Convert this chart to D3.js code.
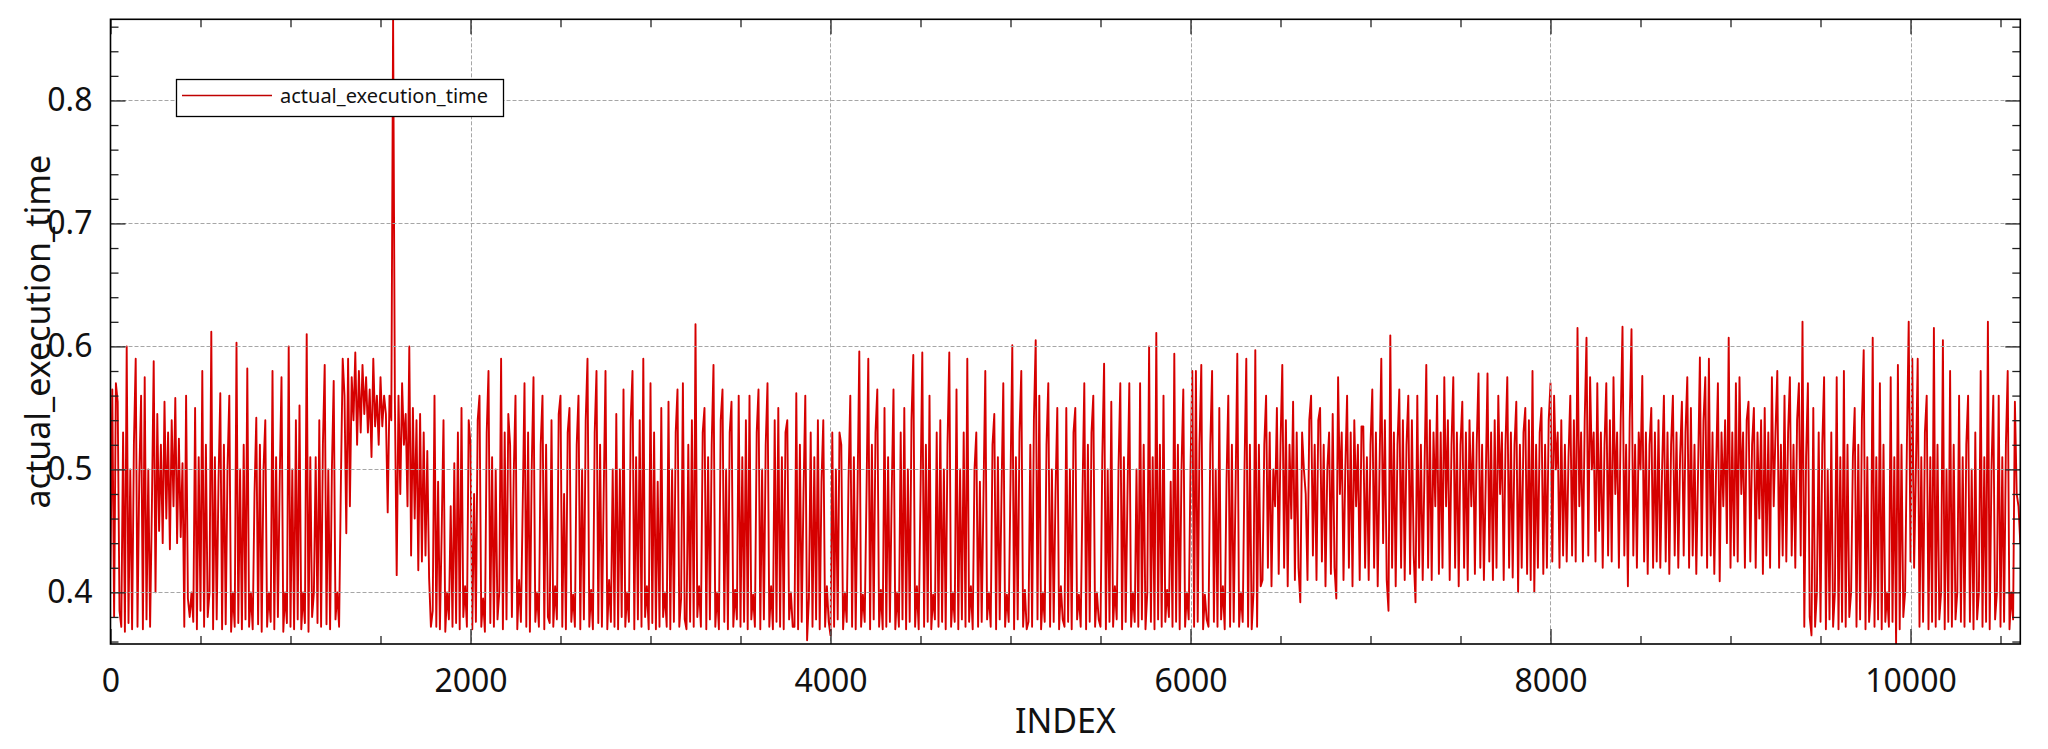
<!DOCTYPE html>
<html>
<head>
<meta charset="utf-8">
<script src="https://cdn.jsdelivr.net/npm/d3@7"></script>
<style>
  html, body { margin: 0; padding: 0; background: #fff; }
  svg { display: block; font-family: "Noto Sans", "DejaVu Sans", sans-serif; }
</style>
</head>
<body>
<svg id="chart" width="2048" height="749"></svg>
<script>
const seriesName = 'actual_execution_time';
const xLabel = 'INDEX';
const yLabel = 'actual_execution_time';
const indexStep = 10;
const xTicks = [0, 2000, 4000, 6000, 8000, 10000];
const yTicks = [0.4, 0.5, 0.6, 0.7, 0.8];

// execution time every 10 rows, in thousandths of a unit
const executionTime = [
  420,565,380,570,555,385,372,530,368,600, 375,500,370,520,590,372,495,560,370,575,
  378,500,372,470,588,400,545,450,520,440, 555,460,530,435,540,470,558,440,525,445,
  505,372,560,395,380,400,376,550,370,510, 385,580,372,520,380,400,612,370,510,378,
  490,562,370,520,374,500,560,368,400,372, 603,375,500,370,520,378,582,372,400,370,
  480,542,374,520,368,500,540,372,400,376, 580,370,510,380,490,575,368,400,375,600,
  372,500,370,540,378,552,370,400,375,610, 368,510,380,400,510,375,540,372,520,585,
  374,500,370,500,572,378,400,372,490,590, 560,448,590,470,575,540,595,520,580,530,
  585,545,575,530,565,510,590,535,560,520, 575,535,560,545,465,560,540,866,555,414,
  560,480,570,520,545,470,600,430,550,460, 540,418,545,425,530,430,515,412,372,385,
  560,372,490,370,450,540,368,400,378,470, 372,505,375,530,370,550,380,405,372,540,
  520,370,480,376,540,560,372,395,368,530, 580,375,510,372,500,378,400,590,370,530,
  378,545,520,380,495,560,370,410,376,470, 570,372,530,368,500,575,376,400,372,520,
  560,370,520,380,375,540,372,405,378,545, 560,372,480,370,530,550,376,398,372,520,
  560,370,500,378,540,590,372,402,370,530, 580,375,520,372,480,580,370,410,376,500,
  372,545,370,500,380,565,372,400,376,540, 580,370,510,378,540,372,590,380,405,370,
  570,375,530,370,490,372,550,380,400,372, 555,370,500,376,530,565,372,395,570,378,
  370,520,376,540,372,618,380,405,372,530, 550,370,510,378,520,585,372,400,370,540,
  565,376,500,370,530,555,372,402,378,560, 372,510,376,540,370,560,378,398,372,530,
  565,370,500,378,520,570,372,405,370,540, 376,550,372,510,370,530,540,378,400,372,
  372,562,370,520,376,480,560,361,395,530, 372,510,378,540,370,490,540,372,405,376,
  365,530,372,500,378,530,520,370,400,376, 490,560,372,510,370,480,596,372,398,376,
  480,590,370,520,378,530,565,372,402,370, 550,372,510,376,480,565,370,400,372,530,
  378,550,370,500,376,540,593,372,405,370, 480,595,372,520,376,560,370,398,378,530,
  372,540,376,500,370,520,595,372,400,376, 565,370,500,378,530,372,590,376,405,370,
  500,530,372,490,376,480,580,378,400,372, 520,545,370,510,378,480,570,372,398,376,
  490,601,370,510,378,530,580,372,402,370, 376,520,372,540,605,378,560,370,400,376,
  520,570,372,500,376,480,550,370,405,378, 372,550,376,500,370,530,550,378,398,372,
  480,570,370,520,376,530,560,372,400,378, 372,510,586,370,500,376,555,372,405,378,
  500,570,370,510,376,480,570,372,400,376, 500,372,570,378,520,370,400,600,376,510,
  370,611,378,520,372,560,376,402,380,490, 372,594,376,520,370,500,565,372,400,378,
  500,580,372,580,376,520,585,370,398,378, 372,520,580,376,500,372,550,378,405,370,
  490,560,372,520,376,480,594,372,400,376, 500,590,372,520,370,400,597,372,520,405,
  410,520,560,420,530,405,500,470,550,415, 520,585,420,540,405,520,460,555,410,530,
  420,392,530,500,480,410,540,560,430,520, 410,540,550,425,520,405,500,530,415,545,
  420,395,575,480,530,410,500,560,420,530, 405,540,470,520,410,535,535,420,510,410,
  520,565,420,530,405,500,590,440,540,410, 385,609,420,530,405,520,565,420,540,410,
  520,560,415,540,430,392,560,420,520,410, 500,585,420,540,410,530,470,560,415,530,
  420,575,470,540,410,520,575,420,530,405, 520,555,420,530,410,540,470,530,415,520,
  578,420,520,410,490,578,425,530,410,540, 420,560,480,530,410,520,575,420,530,412,
  520,555,400,520,420,530,550,415,540,410, 580,400,520,420,530,550,415,520,420,540,
  570,425,560,500,530,420,540,430,520,425, 510,560,430,540,425,615,470,530,425,540,
  607,430,575,500,530,425,570,450,530,420, 520,570,430,540,425,575,480,530,420,540,
  616,430,520,405,540,614,430,520,420,530, 500,576,425,530,415,520,550,420,530,425,
  540,420,500,560,425,530,415,520,560,430, 530,420,510,555,430,530,575,420,550,430,
  520,415,500,591,430,540,575,420,590,430, 530,415,500,570,409,530,470,540,440,607,
  420,530,430,570,425,575,480,530,420,540, 555,425,520,550,420,530,460,540,415,550,
  430,530,420,575,470,530,580,420,520,430, 560,425,530,575,430,520,420,540,570,430,
  620,372,510,570,380,365,550,372,400,530, 376,520,575,370,500,378,530,372,400,575,
  370,510,376,580,372,520,380,400,510,550, 372,520,378,540,597,370,510,376,400,607,
  372,510,378,570,370,520,376,400,372,575, 376,510,358,585,370,520,380,400,520,620,
  425,590,420,500,590,372,510,376,530,560, 370,510,376,615,372,520,378,400,605,370,
  500,376,580,372,520,378,400,560,376,510, 372,520,560,376,500,370,530,378,400,580,
  372,510,376,620,370,500,560,378,400,560, 372,510,376,520,580,370,400,378,555,480,
  470,440
];

const points = executionTime.map((v, i) => ({ index: i * indexStep, value: v / 1000 }));

const plot = { left: 110.5, right: 2020.3, top: 19.3, bottom: 644 };

const x = d3.scaleLinear()
  .domain(d3.extent(points, d => d.index))
  .range([plot.left, plot.right]);
const y = d3.scaleLinear()
  .domain(d3.extent(points, d => d.value))
  .range([plot.bottom, plot.top]);

const svg = d3.select('#chart');

svg.append('clipPath').attr('id', 'plot-clip')
  .append('rect')
  .attr('x', plot.left).attr('y', plot.top)
  .attr('width', plot.right - plot.left).attr('height', plot.bottom - plot.top);

// data line
const line = d3.line().x(d => x(d.index)).y(d => y(d.value));
svg.append('path')
  .datum(points)
  .attr('clip-path', 'url(#plot-clip)')
  .attr('fill', 'none')
  .attr('stroke', '#d60000')
  .attr('stroke-width', 1.9)
  .attr('stroke-linejoin', 'round')
  .attr('d', line);

// dashed grid on major ticks, drawn over the data
const grid = svg.append('g')
  .attr('stroke', '#a6a6a6')
  .attr('stroke-width', 1)
  .attr('stroke-dasharray', '4,2');
grid.selectAll('.gx')
  .data(xTicks.filter(d => d > 0))
  .enter().append('line')
  .attr('x1', d => Math.round(x(d)) + 0.5).attr('x2', d => Math.round(x(d)) + 0.5)
  .attr('y1', plot.top).attr('y2', plot.bottom);
grid.selectAll('.gy')
  .data(yTicks)
  .enter().append('line')
  .attr('x1', plot.left).attr('x2', plot.right)
  .attr('y1', d => Math.round(y(d)) + 0.5).attr('y2', d => Math.round(y(d)) + 0.5);

const xMinor = d3.range(0, 10611, 500).filter(d => d % 2000 !== 0);
const yMinor = d3.range(36, 87, 2).map(d => d / 100).filter(d => Math.round(d * 100) % 10 !== 0);

function drawAxis(axis, tx, ty, labelled) {
  const g = svg.append('g').attr('transform', `translate(${tx},${ty})`).call(axis);
  g.select('.domain').remove();
  g.selectAll('.tick line').attr('stroke', '#222').attr('stroke-width', 1.3);
  g.attr('font-family', null).attr('font-size', 32);
  g.selectAll('.tick text').attr('fill', '#111');
  if (!labelled) g.selectAll('.tick text').remove();
  return g;
}

drawAxis(d3.axisBottom(x).tickValues(xTicks).tickSize(-15).tickPadding(25).tickFormat(d3.format('d')), 0, plot.bottom, true);
drawAxis(d3.axisBottom(x).tickValues(xMinor).tickSize(-8).tickFormat(''), 0, plot.bottom, false);
drawAxis(d3.axisTop(x).tickValues(xTicks).tickSize(-15).tickFormat(''), 0, plot.top, false);
drawAxis(d3.axisTop(x).tickValues(xMinor).tickSize(-8).tickFormat(''), 0, plot.top, false);
drawAxis(d3.axisLeft(y).tickValues(yTicks).tickSize(-15).tickPadding(18).tickFormat(d3.format('.1f')), plot.left, 0, true);
drawAxis(d3.axisLeft(y).tickValues(yMinor).tickSize(-8).tickFormat(''), plot.left, 0, false);
drawAxis(d3.axisRight(y).tickValues(yTicks).tickSize(-15).tickFormat(''), plot.right, 0, false);
drawAxis(d3.axisRight(y).tickValues(yMinor).tickSize(-8).tickFormat(''), plot.right, 0, false);

// frame
svg.append('rect')
  .attr('x', plot.left).attr('y', plot.top)
  .attr('width', plot.right - plot.left).attr('height', plot.bottom - plot.top)
  .attr('fill', 'none').attr('stroke', '#000').attr('stroke-width', 1.6);

// legend
const legend = svg.append('g');
legend.append('rect')
  .attr('x', 176.5).attr('y', 79.5).attr('width', 327).attr('height', 37)
  .attr('fill', '#fff').attr('stroke', '#000').attr('stroke-width', 1.3);
legend.append('line')
  .attr('x1', 182).attr('x2', 272).attr('y1', 95.5).attr('y2', 95.5)
  .attr('stroke', '#c00000').attr('stroke-width', 1.5);
legend.append('text')
  .attr('x', 280).attr('y', 103)
  .attr('font-size', 20).attr('fill', '#111')
  .text(seriesName);

// axis titles
svg.append('text')
  .attr('x', (plot.left + plot.right) / 2).attr('y', 733)
  .attr('text-anchor', 'middle').attr('font-size', 34).attr('fill', '#111')
  .text(xLabel);
svg.append('text')
  .attr('transform', `translate(50,${(plot.top + plot.bottom) / 2}) rotate(-90)`)
  .attr('text-anchor', 'middle').attr('font-size', 34).attr('fill', '#111')
  .text(yLabel);
</script>
</body>
</html>
